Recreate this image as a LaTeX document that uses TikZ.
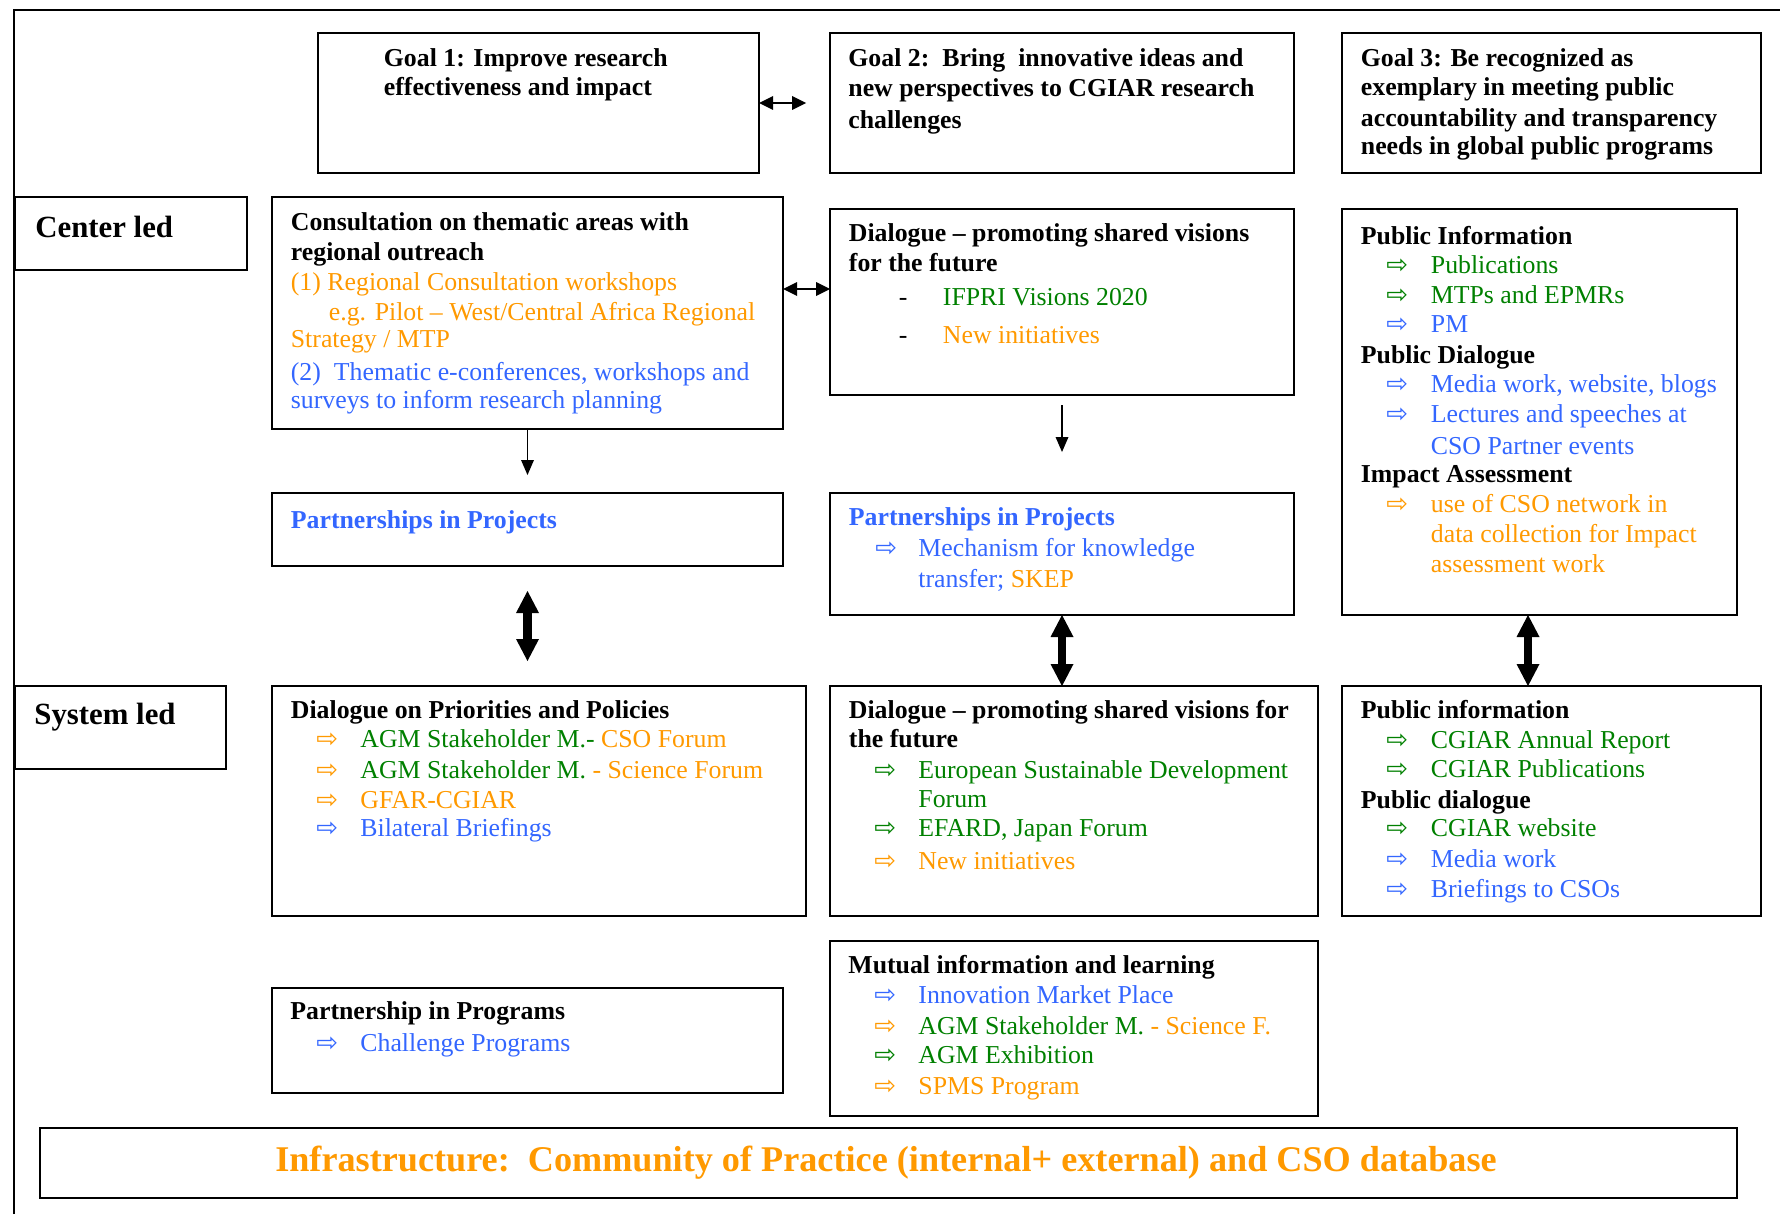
\documentclass[tikz,border=0pt]{standalone}
\usepackage{fontspec}
\setmainfont{Liberation Serif}
\newfontfamily\symf{DejaVu Sans}
\usetikzlibrary{arrows.meta}
\definecolor{orng}{RGB}{255,153,0}
\definecolor{grn}{RGB}{0,128,0}
\definecolor{blu}{RGB}{51,102,255}
\newcommand\fn{\fontsize{12.9pt}{15pt}\selectfont}
\newcommand\arw{{\symf\fontsize{13pt}{13pt}\selectfont ⇨}}
\newcommand\mkbox[5]{\node[bx,minimum width=#4*0.5pt,minimum height=#5*0.5pt] (#1) at (#2,#3) {};}
\newcommand\tline[5]{\node[#4] (#1) at (#2,#3) {#5};}
\newcommand\aline[4]{\node[ar,text=#4] (#1) at (#2,{#3-7}) {\arw};}
\begin{document}
\begin{tikzpicture}[x=0.5pt,y=-0.5pt,
 bx/.style={draw,line width=1pt,anchor=north west,inner sep=0pt,outer sep=0pt},
 tx/.style={anchor=base west,inner sep=0pt,font=\fn},
 hd/.style={tx,font=\fn\bfseries},
 ar/.style={anchor=west,inner sep=0pt},
 sm/.style={line width=1pt,{Triangle[width=7pt,length=7pt,line width=0pt]}-{Triangle[width=7pt,length=7pt,line width=0pt]}},
 dn/.style={line width=0.75pt,-{Triangle[width=6.5pt,length=7.5pt,line width=0pt]}},
 big/.style={line width=4.25pt,{Triangle[width=11.5pt,length=11pt,line width=0pt]}-{Triangle[width=11.5pt,length=11pt,line width=0pt]}}]
\useasboundingbox (0,0) rectangle (1780,1214);
\draw[line width=1pt] (14,1214) -- (14,10) -- (1780,10);
% boxes
\mkbox{g1}{318}{33}{441}{140}
\mkbox{g2}{830}{33}{464}{140}
\mkbox{g3}{1342}{33}{419}{140}
\mkbox{cl}{15}{197}{232}{73}
\mkbox{c1}{272}{197}{511}{232}
\mkbox{dc}{830}{209}{464}{186}
\mkbox{pi}{1342}{209}{395}{406}
\mkbox{pl}{272}{493}{511}{73}
\mkbox{pc}{830}{493}{464}{122}
\mkbox{sl}{15}{686}{211}{83}
\mkbox{dp}{272}{686}{534}{230}
\mkbox{ds}{830}{686}{488}{230}
\mkbox{ps}{1342}{686}{419}{230}
\mkbox{pp}{272}{988}{511}{105}
\mkbox{mu}{830}{941}{488}{175}
\mkbox{inf}{40}{1128}{1697}{70}
% goals
\tline{g1a}{383.5}{67}{hd}{Goal 1: Improve research}
\tline{g1b}{383.5}{95.5}{hd}{effectiveness and impact}
\tline{g2a}{848}{67}{hd}{Goal 2:\ \ Bring\ \ innovative ideas and}
\tline{g2b}{848}{96.5}{hd}{new perspectives to CGIAR research}
\tline{g2c}{848}{129}{hd}{challenges}
\tline{g3a}{1360.5}{67}{hd}{Goal 3: Be recognized as}
\tline{g3b}{1360.5}{96}{hd}{exemplary in meeting public}
\tline{g3c}{1360.5}{127}{hd}{accountability and transparency}
\tline{g3d}{1360.5}{154.5}{hd}{needs in global public programs}
% row labels
\tline{clt}{35}{237.5}{anchor=base west,inner sep=0pt,font=\fontsize{15.4pt}{17pt}\selectfont\bfseries}{Center led}
\tline{slt}{34}{724.5}{anchor=base west,inner sep=0pt,font=\fontsize{15.4pt}{17pt}\selectfont\bfseries}{System led}
% consultation
\tline{c1a}{290.5}{230.5}{hd}{Consultation on thematic areas with}
\tline{c1b}{290.5}{260}{hd}{regional outreach}
\tline{c1c}{290.5}{290.5}{tx,text=orng}{(1) Regional Consultation workshops}
\tline{c1d}{328.5}{320}{tx,text=orng}{e.g. Pilot – West/Central Africa Regional}
\tline{c1e}{290.5}{347.5}{tx,text=orng}{Strategy / MTP}
\tline{c1f}{290.5}{380.5}{tx,text=blu}{(2)\ \ Thematic e-conferences, workshops and}
\tline{c1g}{290.5}{408.5}{tx,text=blu}{surveys to inform research planning}
% dialogue centre
\tline{dca}{848.5}{242}{hd}{Dialogue – promoting shared visions}
\tline{dcb}{848.5}{271}{hd}{for the future}
\tline{dcc}{898.5}{305.5}{tx}{-}
\tline{dcd}{942.5}{305.5}{tx,text=grn}{IFPRI Visions 2020}
\tline{dce}{898.5}{343.5}{tx}{-}
\tline{dcf}{942.5}{343.5}{tx,text=orng}{New initiatives}
% public information (centre)
\tline{pia}{1360.5}{244}{hd}{Public Information}
\aline{pib1}{1386}{273.5}{grn}
\tline{pib}{1430.5}{273.5}{tx,text=grn}{Publications}
\aline{pic1}{1386}{303}{grn}
\tline{pic}{1430.5}{303}{tx,text=grn}{MTPs and EPMRs}
\aline{pid1}{1386}{332}{blu}
\tline{pid}{1430.5}{332}{tx,text=blu}{PM}
\tline{pie}{1360.5}{363}{hd}{Public Dialogue}
\aline{pif1}{1386}{392.5}{blu}
\tline{pif}{1430.5}{392.5}{tx,text=blu}{Media work, website, blogs}
\aline{pig1}{1386}{422}{blu}
\tline{pig}{1430.5}{422}{tx,text=blu}{Lectures and speeches at}
\tline{pih}{1430.5}{454}{tx,text=blu}{CSO Partner events}
\tline{pii}{1360.5}{482}{hd}{Impact Assessment}
\aline{pij1}{1386}{512}{orng}
\tline{pij}{1430.5}{512}{tx,text=orng}{use of CSO network in}
\tline{pik}{1430.5}{542.5}{tx,text=orng}{data collection for Impact}
\tline{pil}{1430.5}{572}{tx,text=orng}{assessment work}
% partnerships
\tline{pla}{290.5}{528}{hd,text=blu}{Partnerships in Projects}
\tline{pca}{848.5}{525.5}{hd,text=blu}{Partnerships in Projects}
\aline{pcb1}{875}{556}{blu}
\tline{pcb}{918}{556}{tx,text=blu}{Mechanism for knowledge}
\tline{pcc}{918}{587.5}{tx,text=blu}{transfer; {\color{orng}SKEP}}
% dialogue on priorities
\tline{dpa}{290.5}{718}{hd}{Dialogue on Priorities and Policies}
\aline{dpb1}{316}{747.5}{orng}
\tline{dpb}{360}{747.5}{tx,text=grn}{AGM Stakeholder M.- {\color{orng}CSO Forum}}
\aline{dpc1}{316}{778}{orng}
\tline{dpc}{360}{778}{tx,text=grn}{AGM Stakeholder M. {\color{orng}- Science Forum}}
\aline{dpd1}{316}{808}{orng}
\tline{dpd}{360}{808}{tx,text=orng}{GFAR-CGIAR}
\aline{dpe1}{316}{836.5}{blu}
\tline{dpe}{360}{836.5}{tx,text=blu}{Bilateral Briefings}
% dialogue system centre
\tline{dsa}{848.5}{718}{hd}{Dialogue – promoting shared visions for}
\tline{dsb}{848.5}{747.5}{hd}{the future}
\aline{dsc1}{874}{778}{grn}
\tline{dsc}{918}{778}{tx,text=grn}{European Sustainable Development}
\tline{dsd}{918}{807.5}{tx,text=grn}{Forum}
\aline{dse1}{874}{836}{grn}
\tline{dse}{918}{836}{tx,text=grn}{EFARD, Japan Forum}
\aline{dsf1}{874}{869}{orng}
\tline{dsf}{918}{869}{tx,text=orng}{New initiatives}
% public information (system)
\tline{psa}{1360.5}{718}{hd}{Public information}
\aline{psb1}{1386}{748}{grn}
\tline{psb}{1430.5}{748}{tx,text=grn}{CGIAR Annual Report}
\aline{psc1}{1386}{777.5}{grn}
\tline{psc}{1430.5}{777.5}{tx,text=grn}{CGIAR Publications}
\tline{psd}{1360.5}{808}{hd}{Public dialogue}
\aline{pse1}{1386}{836}{grn}
\tline{pse}{1430.5}{836}{tx,text=grn}{CGIAR website}
\aline{psf1}{1386}{867.5}{blu}
\tline{psf}{1430.5}{867.5}{tx,text=blu}{Media work}
\aline{psg1}{1386}{897.5}{blu}
\tline{psg}{1430.5}{897.5}{tx,text=blu}{Briefings to CSOs}
% partnership in programs
\tline{ppa}{290}{1019}{hd}{Partnership in Programs}
\aline{ppb1}{316}{1051}{blu}
\tline{ppb}{360}{1051}{tx,text=blu}{Challenge Programs}
% mutual information
\tline{mua}{848}{973.5}{hd}{Mutual information and learning}
\aline{mub1}{874}{1003.5}{blu}
\tline{mub}{918}{1003.5}{tx,text=blu}{Innovation Market Place}
\aline{muc1}{874}{1034}{orng}
\tline{muc}{918}{1034}{tx,text=grn}{AGM Stakeholder M. {\color{orng}- Science F.}}
\aline{mud1}{874}{1063.5}{grn}
\tline{mud}{918}{1063.5}{tx,text=grn}{AGM Exhibition}
\aline{mue1}{874}{1094}{orng}
\tline{mue}{918}{1094}{tx,text=orng}{SPMS Program}
% infrastructure
\tline{inft}{886}{1171}{anchor=base,inner sep=0pt,text=orng,font=\fontsize{18.1pt}{20pt}\selectfont\bfseries}{Infrastructure:\ \ Community of Practice (internal+ external) and CSO database}
% connectors
\coordinate (cy) at (0,289);
\coordinate (rx) at (1528,0);
\draw[sm] (g1.east) -- ++(47,0);
\draw[sm] (c1.east |- cy) -- (dc.west |- cy);
\draw[dn] (c1.south) -- ++(0,46);
\draw[dn] ([yshift=-5pt]dc.south) -- ++(0,47);
\draw[big,shorten <=12.5pt,shorten >=12.5pt] (pl.south) -- (pl.south |- dp.north);
\draw[big] (pc.south) -- (pc.south |- ds.north);
\draw[big] (rx |- pi.south) -- (rx |- ps.north);
\end{tikzpicture}
\end{document}
